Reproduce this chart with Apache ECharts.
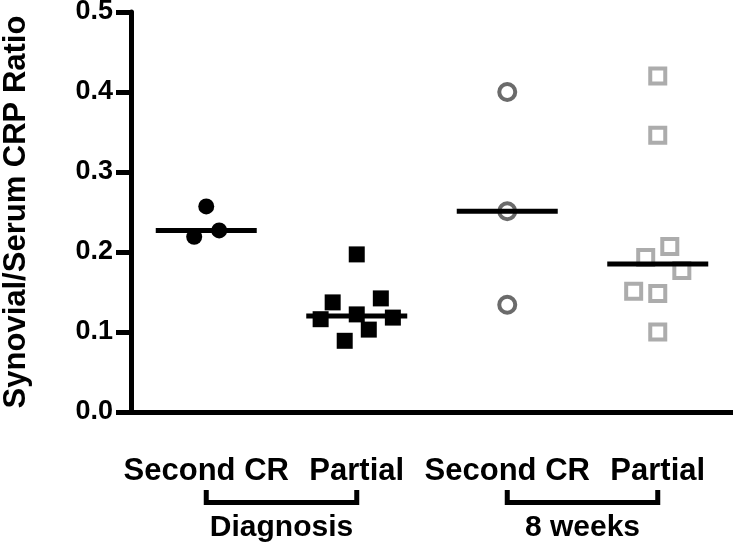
<!DOCTYPE html>
<html>
<head>
<meta charset="utf-8">
<script src="https://cdn.jsdelivr.net/npm/echarts@6/dist/echarts.min.js"></script>
<style>
html,body{margin:0;padding:0;background:#fff;}
#chart{width:733px;height:550px;}
</style>
</head>
<body>
<div id="chart"></div>
<script>
// ---- data ----
var categories = ['Second CR', 'Partial', 'Second CR', 'Partial'];
var groups = ['Diagnosis', '8 weeks'];
var yTicks = [0.0, 0.1, 0.2, 0.3, 0.4, 0.5];
var yTitle = 'Synovial/Serum CRP Ratio';

// values and horizontal jitter (in category units) of each point
var diagSecondCR = [0.257, 0.219, 0.227];
var diagSecondCRJitter = [0, -0.08, 0.086];
var diagPartial = [0.197, 0.137, 0.142, 0.116, 0.122, 0.118, 0.103, 0.089];
var diagPartialJitter = [0, -0.16, 0.16, -0.24, 0, 0.24, 0.08, -0.08];
var wk8SecondCR = [0.400, 0.251, 0.134];
var wk8SecondCRJitter = [0, 0, 0];
var wk8Partial = [0.420, 0.346, 0.207, 0.193, 0.177, 0.151, 0.148, 0.100];
var wk8PartialJitter = [0, 0, 0.08, -0.08, 0.16, -0.16, 0, 0];
var medians = [0.227, 0.120, 0.251, 0.185];

var FONT = "'Liberation Sans', Arial, Helvetica, sans-serif";

function pts(catIndex, vals, jit) {
  return vals.map(function (v, i) { return [catIndex + jit[i], v]; });
}

var chart = echarts.init(document.getElementById('chart'), null, {renderer: 'canvas'});

var option = {
  backgroundColor: '#ffffff',
  animation: false,
  grid: {left: 131, right: 0, top: 12, bottom: 138, containLabel: false, outerBoundsMode: 'none'},
  xAxis: [
    {
      type: 'category',
      data: categories,
      boundaryGap: true,
      axisLine: {onZero: false, lineStyle: {color: '#000', width: 5}},
      axisTick: {alignWithLabel: true, length: 16, lineStyle: {color: '#000', width: 5}},
      axisLabel: {
        color: '#000', fontFamily: FONT, fontWeight: 'bold', fontSize: 31,
        margin: 44, interval: 0
      },
      splitLine: {show: false}
    },
    {
      type: 'value',
      min: -0.5, max: 3.5,
      show: false,
      splitLine: {show: false}
    }
  ],
  yAxis: {
    type: 'value',
    min: 0, max: 0.5, interval: 0.1,
    name: yTitle,
    nameLocation: 'middle',
    nameRotate: 90,
    nameGap: 99,
    nameTextStyle: {color: '#000', fontFamily: FONT, fontWeight: 'bold', fontSize: 31},
    axisLine: {show: true, onZero: false, lineStyle: {color: '#000', width: 5}},
    axisTick: {show: true, length: 15, lineStyle: {color: '#000', width: 5}},
    axisLabel: {
      color: '#000', fontFamily: FONT, fontWeight: 'bold', fontSize: 27, margin: 18,
      formatter: function (v) { return v.toFixed(1); }
    },
    splitLine: {show: false}
  },
  series: [
    {
      type: 'scatter', xAxisIndex: 1,
      data: pts(0, diagSecondCR, diagSecondCRJitter),
      symbol: 'circle', symbolSize: 16,
      itemStyle: {color: '#000', opacity: 1}, z: 3
    },
    {
      type: 'scatter', xAxisIndex: 1,
      data: pts(1, diagPartial, diagPartialJitter),
      symbol: 'rect', symbolSize: 16,
      itemStyle: {color: '#000', opacity: 1}, z: 3
    },
    {
      type: 'scatter', xAxisIndex: 1,
      data: pts(2, wk8SecondCR, wk8SecondCRJitter),
      symbol: 'circle', symbolSize: 16,
      itemStyle: {color: 'rgba(255,255,255,0)', borderColor: '#6b6b6b', borderWidth: 4, opacity: 1}, z: 3
    },
    {
      type: 'scatter', xAxisIndex: 1,
      data: pts(3, wk8Partial, wk8PartialJitter),
      symbol: 'rect', symbolSize: 15,
      itemStyle: {color: 'rgba(255,255,255,0)', borderColor: '#acacac', borderWidth: 4, opacity: 1}, z: 3
    },
    {
      type: 'scatter', xAxisIndex: 0,
      data: medians.map(function (m, i) { return [i, m]; }),
      symbol: 'rect', symbolSize: [101, 5],
      itemStyle: {color: '#000', opacity: 1}, z: 4
    }
  ]
};

chart.setOption(option);

// group brackets and labels below the category labels
function addGroups() {
  var els = [];
  var yTop = 490, yBar = 502.5, yLabel = 528;
  for (var g = 0; g < groups.length; g++) {
    var x0 = chart.convertToPixel({xAxisIndex: 0}, 2 * g);
    var x1 = chart.convertToPixel({xAxisIndex: 0}, 2 * g + 1);
    els.push({
      type: 'polyline',
      shape: {points: [[x0, yTop], [x0, yBar], [x1, yBar], [x1, yTop]]},
      style: {stroke: '#000', lineWidth: 5, fill: null, lineJoin: 'miter', lineCap: 'butt'}
    });
    els.push({
      type: 'text',
      x: (x0 + x1) / 2, y: yLabel,
      style: {
        text: groups[g], fill: '#000', font: 'bold 30px ' + FONT,
        textAlign: 'center', textVerticalAlign: 'middle'
      }
    });
  }
  chart.setOption({graphic: {elements: els}});
}
addGroups();
</script>
</body>
</html>
